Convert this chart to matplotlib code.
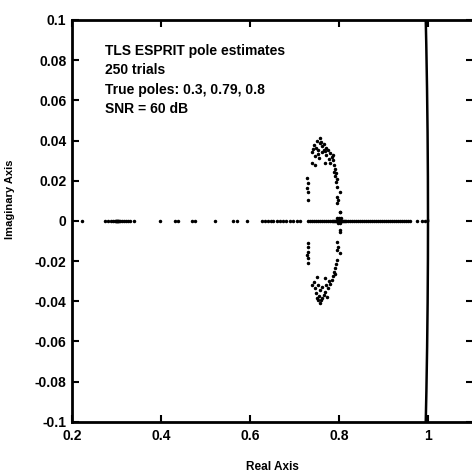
import numpy as np
import matplotlib
matplotlib.use("Agg")
import matplotlib.pyplot as plt

# --- pole estimates (complex pairs: upper half, lower half) ---
upper_re = [0.757, 0.744, 0.748, 0.753, 0.757, 0.762, 0.766, 0.771, 0.775, 0.780,
            0.753, 0.762, 0.771, 0.739, 0.746, 0.755, 0.766, 0.784,
            0.739, 0.746, 0.769, 0.780,
            0.787, 0.789, 0.791, 0.793, 0.791, 0.796, 0.793, 0.789,
            0.728, 0.730, 0.728, 0.730, 0.730,
            0.796, 0.802, 0.796, 0.798, 0.796, 0.802,
            0.750, 0.760, 0.768, 0.742, 0.778, 0.786]
upper_im = [0.0413, 0.0378, 0.0364, 0.0354, 0.0388, 0.0374, 0.0383, 0.0364, 0.0354, 0.0339,
            0.0334, 0.0344, 0.0329, 0.0344, 0.0324, 0.0314, 0.0354, 0.0319,
            0.0289, 0.0279, 0.0289, 0.0289,
            0.0304, 0.0279, 0.0259, 0.0239, 0.0224, 0.0209, 0.0194, 0.0244,
            0.0214, 0.0189, 0.0164, 0.0144, 0.0105,
            0.0169, 0.0144, 0.0120, 0.0105, 0.0090, 0.0045,
            0.0398, 0.0395, 0.0348, 0.0360, 0.0310, 0.0330]

lower_re = [0.802, 0.796, 0.798, 0.796, 0.802,
            0.730, 0.730, 0.730, 0.728, 0.730, 0.730,
            0.796, 0.793, 0.791, 0.789, 0.787, 0.784, 0.791,
            0.751, 0.769,
            0.739, 0.746, 0.753, 0.757, 0.762, 0.769, 0.775, 0.780, 0.748, 0.755,
            0.762, 0.766, 0.773, 0.744, 0.757, 0.753, 0.771, 0.760, 0.750, 0.778]
lower_im = [-0.0055, -0.0105, -0.0129, -0.0144, -0.0159,
            -0.0110, -0.0129, -0.0154, -0.0169, -0.0184, -0.0209,
            -0.0194, -0.0214, -0.0234, -0.0254, -0.0274, -0.0294, -0.0264,
            -0.0279, -0.0284,
            -0.0319, -0.0334, -0.0319, -0.0344, -0.0329, -0.0354, -0.0334, -0.0314, -0.0359, -0.0374,
            -0.0383, -0.0369, -0.0378, -0.0304, -0.0408, -0.0393, -0.0319, -0.0395, -0.0385, -0.0300]

# --- real-valued estimates on the real axis ---
real_re = [0.222,
           0.274, 0.281, 0.288, 0.292, 0.297, 0.299, 0.300, 0.301, 0.302, 0.303, 0.304,
           0.306, 0.308, 0.312, 0.317, 0.321, 0.326, 0.330, 0.339,
           0.398, 0.431, 0.438, 0.470, 0.476, 0.521, 0.562, 0.571, 0.593,
           0.627, 0.634, 0.640, 0.647, 0.652, 0.661, 0.667, 0.674, 0.681, 0.690,
           0.697, 0.706, 0.712,
           0.730, 0.735, 0.739, 0.744, 0.748, 0.753, 0.757, 0.762, 0.766, 0.771, 0.775, 0.780,
           0.784, 0.786, 0.789, 0.791, 0.793, 0.795, 0.796, 0.797, 0.798, 0.799, 0.800, 0.800,
           0.801, 0.802, 0.803, 0.804, 0.806, 0.809, 0.811, 0.813,
           0.816, 0.820, 0.825, 0.830, 0.834, 0.838, 0.843, 0.848, 0.852, 0.856, 0.861,
           0.865, 0.870, 0.874, 0.879, 0.883, 0.888, 0.892, 0.897, 0.901, 0.906, 0.910,
           0.915, 0.919, 0.924, 0.928, 0.933, 0.937, 0.942, 0.946, 0.950, 0.955, 0.960,
           0.975, 0.987, 0.993]

# slightly off-axis estimates in the blob near 0.8
near_re = [0.796, 0.800, 0.804, 0.798, 0.802, 0.802, 0.802]
near_im = [0.0012, 0.0013, 0.0012, -0.0012, -0.0013, 0.0045, -0.0045]

x_ticks = [0.2, 0.4, 0.6, 0.8, 1.0]
x_ticklabels = ["0.2", "0.4", "0.6", "0.8", "1"]
y_ticks = [0.1, 0.08, 0.06, 0.04, 0.02, 0.0, -0.02, -0.04, -0.06, -0.08, -0.1]
y_ticklabels = ["0.1", "0.08", "0.06", "0.04", "0.02", "0", "-0.02", "-0.04", "-0.06", "-0.08", "-0.1"]

annotation = ["TLS ESPRIT pole estimates", "250 trials",
              "True poles: 0.3, 0.79, 0.8", "SNR = 60 dB"]

W, H = 472, 475
fig = plt.figure(figsize=(W / 100, H / 100), dpi=100)
left_px, right_px, top_px, bot_px = 72, 472.5, 20, 421.7
ax = fig.add_axes([left_px / W, 1 - bot_px / H, (right_px - left_px) / W, (bot_px - top_px) / H])

ink = "black"
# unit circle (reference)
th = np.linspace(0, 2 * np.pi, 2000)
ax.plot(np.cos(th), np.sin(th), color=ink, lw=1.8)

ms = 3.0
ax.plot(upper_re, upper_im, ".", color=ink, ms=ms)
ax.plot(lower_re, lower_im, ".", color=ink, ms=ms)
ax.plot(real_re, np.zeros(len(real_re)), ".", color=ink, ms=ms)
ax.plot(near_re, near_im, ".", color=ink, ms=ms)

ax.set_xlim(0.2, 1.1)
ax.set_ylim(-0.1, 0.1)
ax.set_xticks(x_ticks)
ax.set_xticklabels(x_ticklabels)
ax.set_yticks(y_ticks)
ax.set_yticklabels(y_ticklabels)

font = "Liberation Sans"
for lab in ax.get_xticklabels() + ax.get_yticklabels():
    lab.set_fontfamily(font)
    lab.set_fontweight("bold")
    lab.set_fontsize(10)

ax.tick_params(direction="in", length=5, width=1.5, top=True, right=True, pad=4, colors=ink)
ax.tick_params(axis="x", pad=5)
for s in ax.spines.values():
    s.set_linewidth(2)
ax.spines["right"].set_visible(False)

fig.text(10 / W, 1 - 199 / H, "Imaginary Axis", rotation=90, ha="center", va="center",
         fontfamily=font, fontweight="bold", fontsize=8)
fig.text((left_px + right_px) / 2 / W, 1 - 467 / H, "Real Axis", ha="center", va="center",
         fontfamily=font, fontweight="bold", fontsize=8.5)

for i, line in enumerate(annotation):
    fig.text(105 / W, 1 - (51 + 19.3 * i) / H, line, ha="left", va="center",
             fontfamily=font, fontweight="bold", fontsize=10)

fig.savefig("out.png", dpi=100)
